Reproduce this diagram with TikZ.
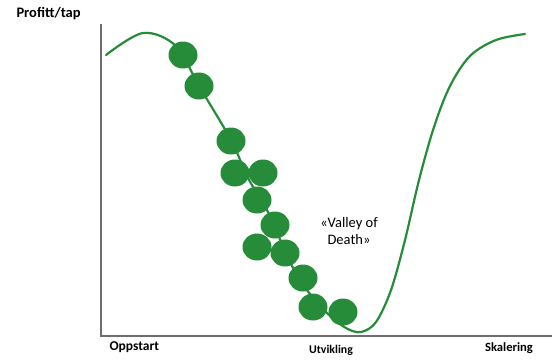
\documentclass[tikz,border=0pt]{standalone}
\usepackage{fontspec}
\setmainfont{Carlito}
\usepackage{tikz}
\usetikzlibrary{positioning}

\definecolor{valleygreen}{RGB}{38,140,58}
\definecolor{axisgray}{RGB}{110,110,110}

\tikzset{
  ball/.style={ellipse, fill=valleygreen, minimum width=29pt, minimum height=27pt, inner sep=0pt},
  axislabel/.style={font=\bfseries\fontsize{12}{14}\selectfont}
}
\usetikzlibrary{shapes.geometric}

\begin{document}
\begin{tikzpicture}[x=1pt, y=-1pt]
    \useasboundingbox (0,0) rectangle (556,360);

    % Axes
    \draw[axisgray, line width=1.3pt] (101,24) -- (101,336) -- (552,336);
    \node[font=\bfseries\fontsize{14.5}{16}\selectfont, anchor=west] (ylab) at (13,14) {Profitt/tap};
    \node[axislabel, font=\bfseries\fontsize{13.5}{15}\selectfont, anchor=west] (start) at (106,347) {Oppstart};
    \node[axislabel, font=\bfseries\fontsize{11.8}{14}\selectfont] (dev) at (331,350) {Utvikling};
    \node[axislabel, font=\bfseries\fontsize{12.6}{14}\selectfont] (scale) at (509,348) {Skalering};

    % Curve
    \draw[valleygreen, line width=2.2pt, line cap=round] plot[smooth, tension=0.55] coordinates {
        (106,55) (143,33) (176,46) (199,86) (231,140) (248,178) (268,212)
        (290,262) (307,290) (327,313) (346,328) (361,332) (376,322)
        (391,290) (405,240) (419,180) (434,127) (450,86) (470,56)
        (496,40) (525,34)};

    % Dots
    \node[ball] (d1) at (183,55) {};
    \node[ball] (d2) at (199,86) {};
    \node[ball] (d3) at (231,141) {};
    \node[ball] (d4) at (235,173) {};
    \node[ball] (d5) at (263,173) {};
    \node[ball] (d6) at (257,200) {};
    \node[ball] (d7) at (275,225) {};
    \node[ball] (d8) at (257,247) {};
    \node[ball] (d9) at (285,253) {};
    \node[ball] (d10) at (303,278) {};
    \node[ball] (d11) at (313,307) {};
    \node[ball] (d12) at (343,312) {};

    % Label
    \node[align=center, font=\fontsize{14.5}{17}\selectfont] (valley) at (349,231) {«Valley of\\Death»};
\end{tikzpicture}
\end{document}
